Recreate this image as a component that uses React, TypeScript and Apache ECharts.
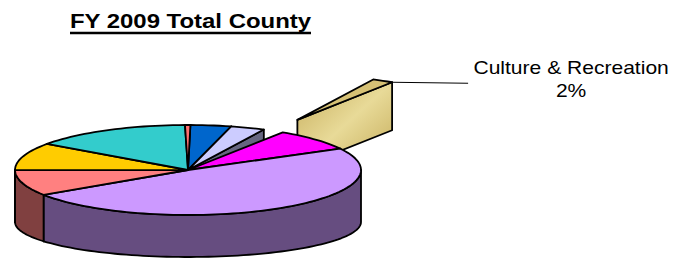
import React, { useEffect, useRef } from 'react';
import * as echarts from 'echarts';

// ---- data ----
const categories = [
  'General Government',
  'Health & Welfare',
  'Culture & Recreation',
  'Community Development',
  'Education',
  'Public Safety',
  'Public Works',
  'Judicial Administration',
  'Non-Departmental',
];
const values = [3.8, 3.2, 2.0, 7.9, 48.6, 9.2, 9.9, 14.9, 0.5];
const colors = ['#0066CC', '#CCCCFF', '#D6C175', '#FF00FF', '#CC99FF', '#FF8080', '#FFCC00', '#33CCCC', '#FF6F6F'];
const explode = [0, 0, 1.28, 0, 0, 0, 0, 0, 0];
const showLabel = [false, false, true, false, false, false, false, false, false];
const titleText = 'FY 2009 Total County';
const firstSliceAngle = 270.8;

function shade(hex: string, f: number) {
  const n = parseInt(hex.slice(1), 16);
  const r = Math.round(((n >> 16) & 255) * f);
  const g = Math.round(((n >> 8) & 255) * f);
  const b = Math.round((n & 255) * f);
  return `rgb(${r},${g},${b})`;
}

export default function App() {
  const ref = useRef<HTMLDivElement>(null);
  useEffect(() => {
    const chart = echarts.init(ref.current as HTMLDivElement, null, { renderer: 'svg' });
    const total = values.reduce((a, b) => a + b, 0);
    const CX = 188, CY = 170, RX = 173, RY = 45;
    const rad = (d: number) => (d * Math.PI) / 180;
    const lineStyle = { stroke: '#000', lineWidth: 1.8, lineJoin: 'round' };

    const renderItem = (params: any, api: any) => {
      const i = params.dataIndex;
      const v = api.value(1);
      let cum = 0;
      for (let k = 0; k < i; k++) cum += values[k];
      const t1 = firstSliceAngle + (cum / total) * 360;
      const t2 = t1 + (v / total) * 360;
      const tm = (t1 + t2) / 2;
      const ex = explode[i];
      const ox = RX * ex * Math.cos(rad(tm));
      const oy = RY * ex * Math.sin(rad(tm));
      // bottom face: perspective makes it a flatter ellipse for the main body
      const DZ = ex > 0 ? 48 : 52;
      const RYB = ex > 0 ? RY : 35;
      const P = (t: number, r: number, bottom: boolean) => [
        CX + ox + RX * r * Math.cos(rad(t)),
        bottom
          ? CY + oy + DZ + RYB * r * Math.sin(rad(t))
          : CY + oy + RY * r * Math.sin(rad(t)),
      ];
      const arc = (a: number, b: number, bottom: boolean) => {
        const n = Math.max(2, Math.ceil(Math.abs(b - a) / 2));
        const pts: number[][] = [];
        for (let k = 0; k <= n; k++) pts.push(P(a + ((b - a) * k) / n, 1, bottom));
        return pts;
      };
      const base = ex > 0 ? 0 : 10;
      const topFill = colors[i];
      const sideFill: any = ex > 0
        ? {
            type: 'linear', x: 0, y: 0, x2: 1, y2: 1,
            colorStops: [
              { offset: 0, color: '#C6AD5B' },
              { offset: 0.5, color: '#E8DA98' },
              { offset: 1, color: '#C4AB58' },
            ],
          }
        : shade(topFill, 0.5);
      const children: any[] = [];
      const c0 = P(t1, 0, false);
      const c1 = P(t1, 0, true);
      // radial walls facing the viewer
      if (Math.cos(rad(t1)) < 0) {
        children.push({
          type: 'polygon', z2: base + 1,
          shape: { points: [c0, P(t1, 1, false), P(t1, 1, true), c1] },
          style: { fill: sideFill, ...lineStyle },
        });
      }
      if (Math.cos(rad(t2)) > 0) {
        children.push({
          type: 'polygon', z2: base + 1,
          shape: { points: [c0, P(t2, 1, false), P(t2, 1, true), c1] },
          style: { fill: sideFill, ...lineStyle },
        });
      }
      // outer wall (front half only)
      const a0 = ((t1 % 360) + 360) % 360;
      const b0 = a0 + (t2 - t1);
      for (const [lo, hi] of [[0, 180], [360, 540]]) {
        const a = Math.max(a0, lo), b = Math.min(b0, hi);
        if (b > a) {
          children.push({
            type: 'polygon', z2: base + 2,
            shape: { points: [...arc(a, b, false), ...arc(b, a, true)] },
            style: { fill: sideFill, ...lineStyle },
          });
        }
      }
      // top face
      children.push({
        type: 'polygon', z2: base + 3,
        shape: { points: [c0, ...arc(t1, t2, false)] },
        style: { fill: topFill, ...lineStyle },
      });
      // label
      if (showLabel[i]) {
        const s = P(t2, 1, false);
        const e = [s[0] + 76, s[1] + 1];
        const pct = Math.round((v / total) * 100) + '%';
        children.push({
          type: 'line', z2: 30,
          shape: { x1: s[0], y1: s[1], x2: e[0], y2: e[1] },
          style: { stroke: '#000', lineWidth: 1 },
        });
        children.push({
          type: 'text', z2: 30,
          x: e[0] + 103, y: e[1] - 4,
          scaleX: 1.17,
          style: {
            text: categories[i] + '\n' + pct,
            x: 0, y: 0,
            align: 'center', verticalAlign: 'middle',
            fontSize: 18, fontFamily: 'Liberation Sans, Arial, sans-serif',
            lineHeight: 22.5, fill: '#000',
          },
        });
      }
      return { type: 'group', children };
    };

    chart.setOption({
      animation: false,
      graphic: [
        {
          type: 'text', x: 190.5, y: 20.8, scaleX: 1.14,
          style: {
            text: titleText, x: 0, y: 0, align: 'center', verticalAlign: 'middle',
            fontSize: 21, fontWeight: 'bold', fontFamily: 'Liberation Sans, Arial, sans-serif', fill: '#000',
          },
        },
        { type: 'rect', shape: { x: 70, y: 31.8, width: 241, height: 2.5 }, style: { fill: '#000' } },
      ],
      series: [
        {
          type: 'custom',
          coordinateSystem: 'none',
          silent: true,
          renderItem,
          data: values.map((v, i) => [i, v]),
        },
      ],
    });
    return () => chart.dispose();
  }, []);
  return <div ref={ref} style={{ position: 'absolute', left: 0, top: 0, width: 673, height: 262 }} />;
}
